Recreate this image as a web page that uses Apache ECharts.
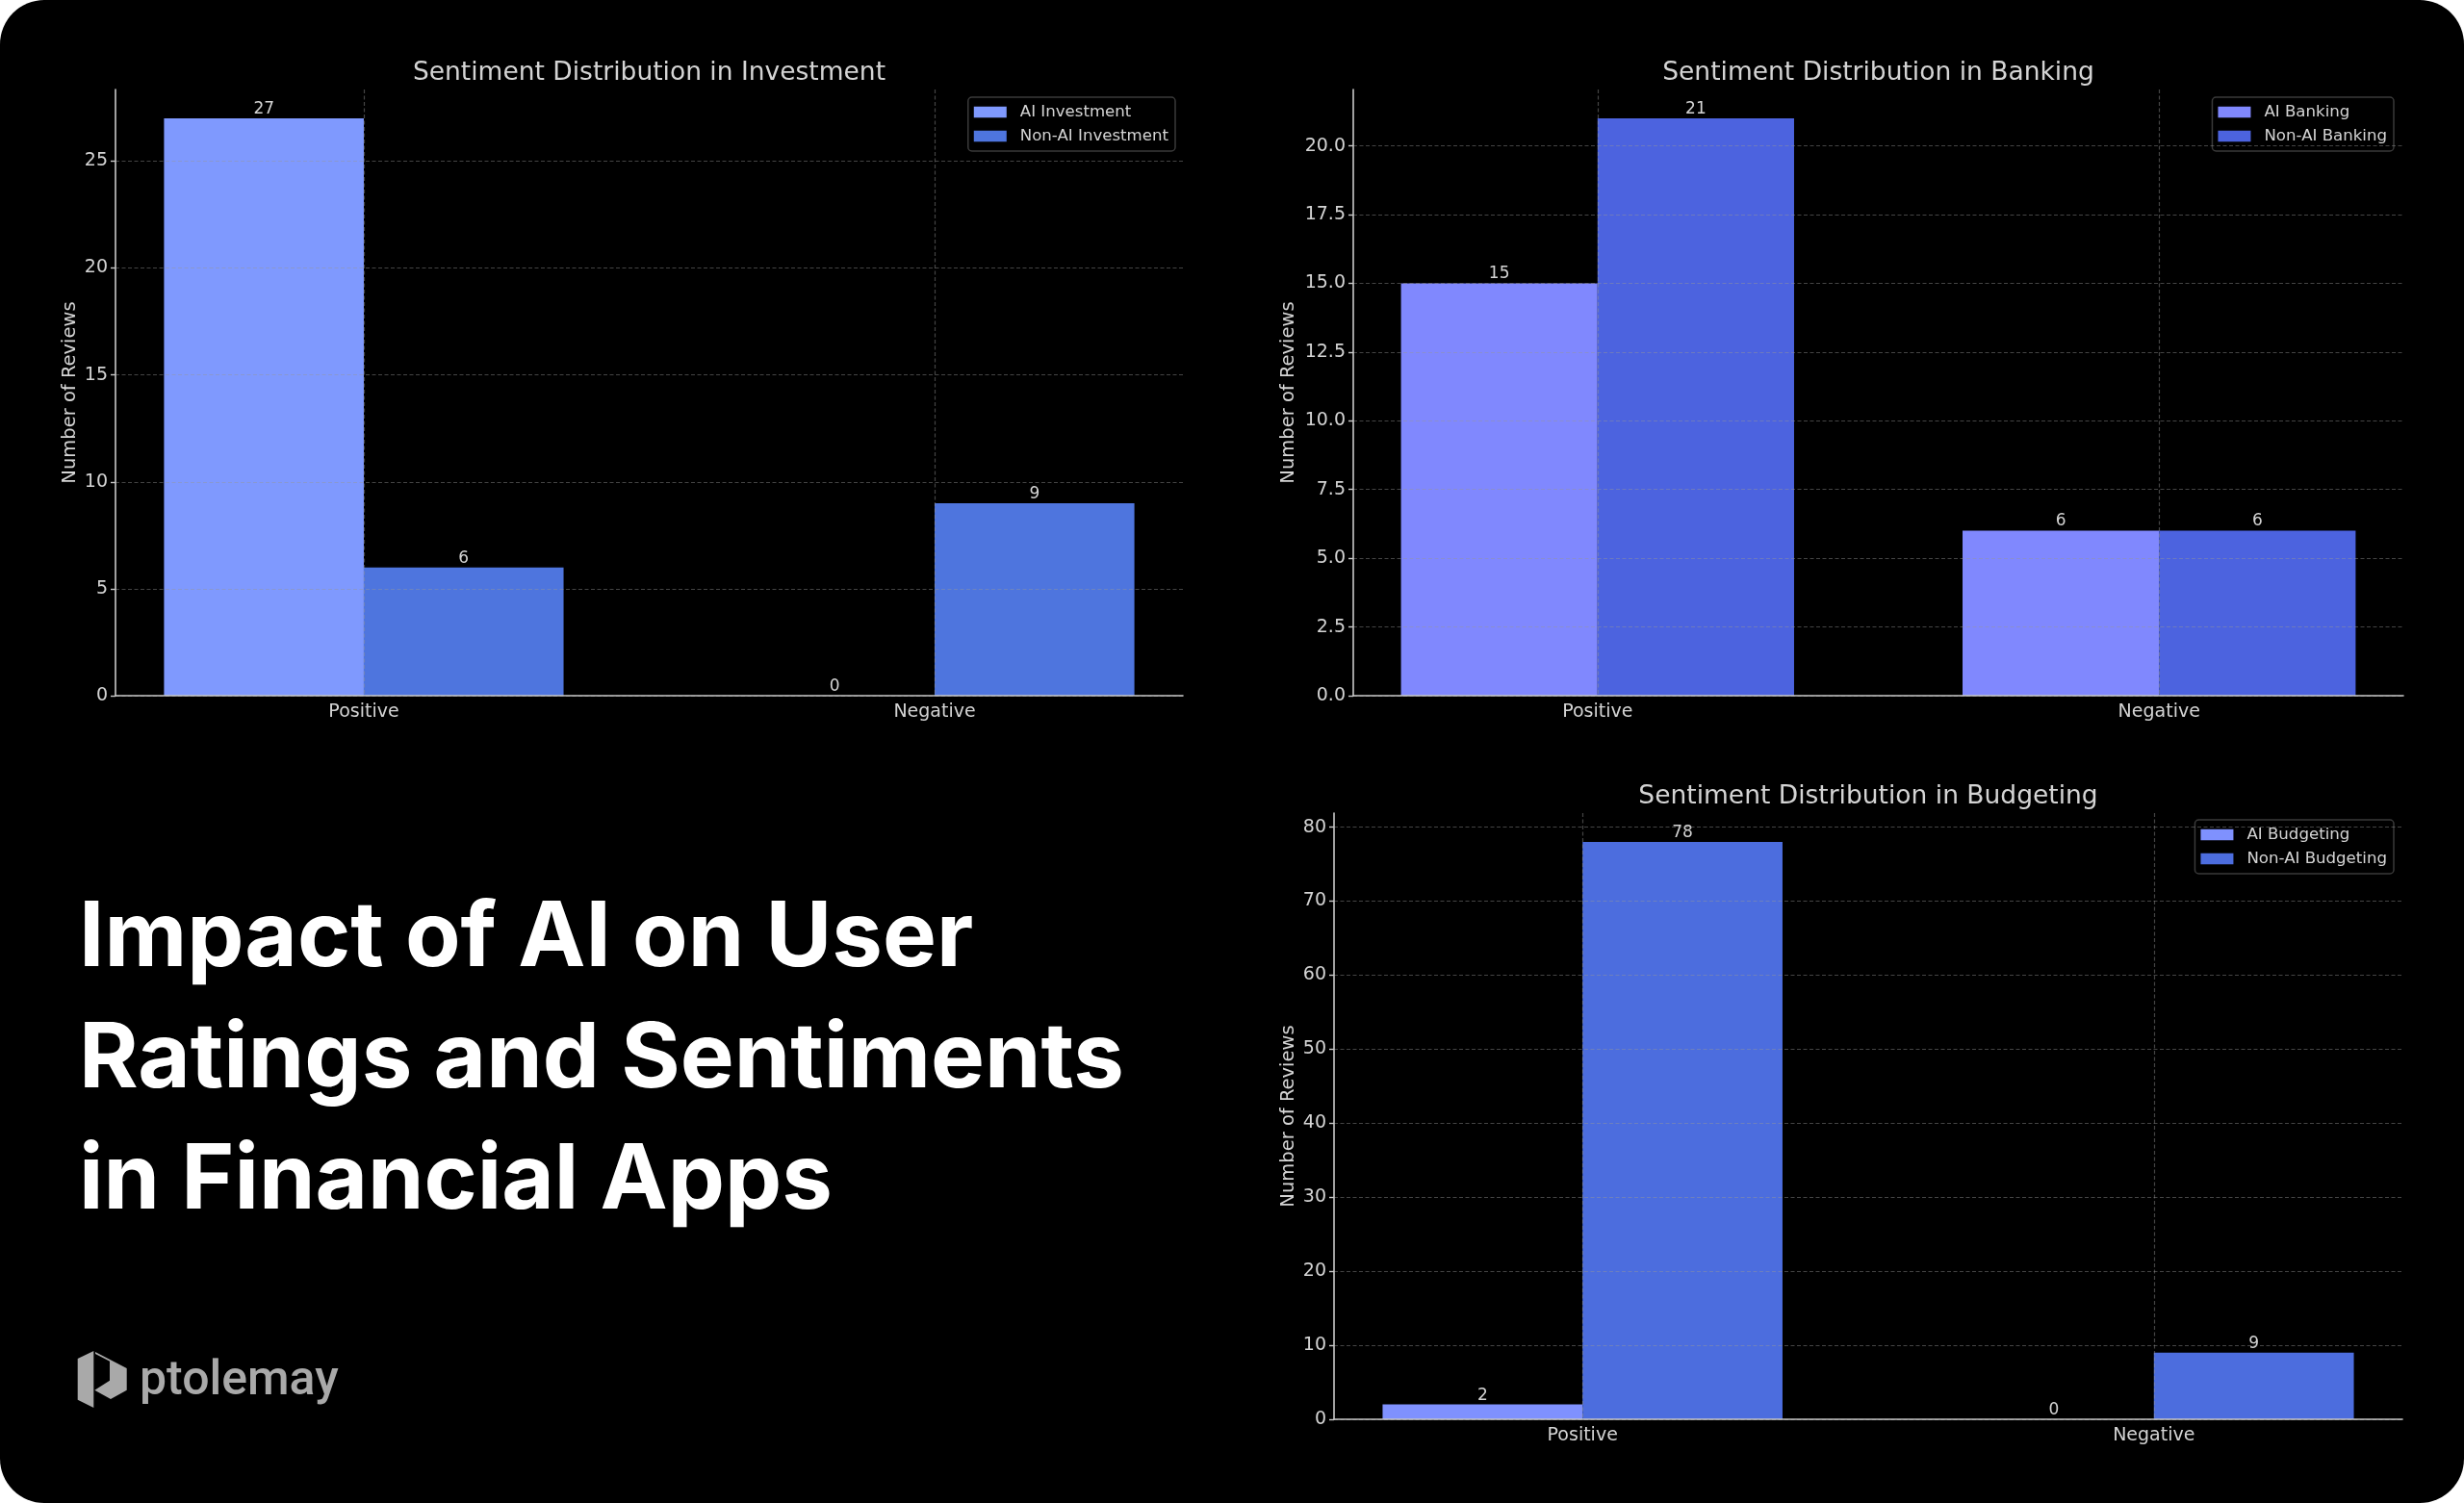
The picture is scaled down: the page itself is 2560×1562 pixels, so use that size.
<!DOCTYPE html>
<html><head><meta charset="utf-8">
<script src="https://cdn.jsdelivr.net/npm/echarts@6/dist/echarts.min.js"></script>
<style>
html,body{margin:0;padding:0;background:#fff;width:2560px;height:1562px;overflow:hidden}
#bg{position:absolute;left:0;top:0;width:2560px;height:1562px;background:#000;border-radius:46px}
#chart{position:absolute;left:0;top:0;width:2560px;height:1562px}
</style></head><body><div id="bg"></div><div id="chart"></div>
<script>
const categories = ['Positive', 'Negative'];
const investmentAI = [27, 0];
const investmentNonAI = [6, 9];
const bankingAI = [15, 6];
const bankingNonAI = [21, 6];
const budgetingAI = [2, 0];
const budgetingNonAI = [78, 9];
const investmentTicks = [0, 5, 10, 15, 20, 25];
const bankingTicks = [0, 2.5, 5, 7.5, 10, 12.5, 15, 17.5, 20];
const budgetingTicks = [0, 10, 20, 30, 40, 50, 60, 70, 80];
const titleLines = ['Impact of AI on User', 'Ratings and Sentiments', 'in Financial Apps'];
const brandName = 'ptolemay';

const panels = [
  { title: 'Sentiment Distribution in Investment', names: ['AI Investment', 'Non-AI Investment'],
    values: [investmentAI, investmentNonAI], ticks: investmentTicks, decimals: 0,
    colors: ['#7F99FE', '#4E75DE'],
    grid: { left: 120, right: 1331, top: 93, bottom: 839 }, titleX: 674.5, titleTop: 63,
    nameGap: 37, legend: { right: 1339, top: 101 } },
  { title: 'Sentiment Distribution in Banking', names: ['AI Banking', 'Non-AI Banking'],
    values: [bankingAI, bankingNonAI], ticks: bankingTicks, decimals: 1,
    colors: ['#8088FE', '#4C63DF'],
    grid: { left: 1406, right: 63, top: 93, bottom: 839 }, titleX: 1951.5, titleTop: 63,
    nameGap: 57, legend: { right: 73, top: 101 } },
  { title: 'Sentiment Distribution in Budgeting', names: ['AI Budgeting', 'Non-AI Budgeting'],
    values: [budgetingAI, budgetingNonAI], ticks: budgetingTicks, decimals: 0,
    colors: ['#7F91FE', '#4C6DDE'],
    grid: { left: 1386, right: 64, top: 845, bottom: 87 }, titleX: 1941, titleTop: 815,
    nameGap: 37, legend: { right: 73, top: 852 } }
];

const FONT = 'DejaVu Sans';
const TXT = '#d4d4d4';
const gridLine = { show: true, lineStyle: { color: 'rgba(150,150,150,0.45)', width: 1.2, type: [4, 2.5] } };
const barW = 0.35;
const offsets = [[-barW, 0], [0, barW]];

const option = {
  animation: false,
  textStyle: { fontFamily: FONT },
  title: [], grid: [], xAxis: [], yAxis: [], legend: [], series: [],
  graphic: []
};

panels.forEach((p, k) => {
  option.title.push({
    text: p.title, left: p.titleX, top: p.titleTop, textAlign: 'center', padding: 0,
    textStyle: { color: TXT, fontSize: 26.5, fontWeight: 'normal', fontFamily: FONT }
  });
  option.grid.push(Object.assign({ containLabel: false }, p.grid));
  option.xAxis.push({
    type: 'value', gridIndex: k, min: -0.435, max: 1.435, z: 5,
    axisLine: { show: true, onZero: false, lineStyle: { color: '#c8c8c8', width: 1.6 } },
    axisTick: { show: false, customValues: [0, 1] },
    axisLabel: { show: true, customValues: [0, 1], margin: 8, color: TXT, fontSize: 19, fontFamily: FONT,
      formatter: v => categories[Math.round(v)] },
    splitLine: gridLine
  });
  const allVals = p.values[0].concat(p.values[1]);
  option.yAxis.push({
    type: 'value', gridIndex: k, min: 0, max: Math.max.apply(null, allVals) * 1.05, z: 5,
    name: 'Number of Reviews', nameLocation: 'middle', nameGap: p.nameGap,
    nameTextStyle: { color: TXT, fontSize: 19.5, fontFamily: FONT },
    axisLine: { show: true, onZero: false, lineStyle: { color: '#c8c8c8', width: 1.6 } },
    axisTick: { show: true, length: 5, customValues: p.ticks, lineStyle: { color: '#c8c8c8', width: 1.4 } },
    axisLabel: { show: true, customValues: p.ticks, margin: 8, color: TXT, fontSize: 19, fontFamily: FONT,
      formatter: v => v.toFixed(p.decimals) },
    splitLine: gridLine
  });
  option.legend.push({
    data: p.names, orient: 'vertical', right: p.legend.right, top: p.legend.top,
    icon: 'rect', itemWidth: 34, itemHeight: 11.5, itemGap: 6,
    padding: [6, 7, 6, 6], backgroundColor: 'rgba(0,0,0,0.8)',
    borderColor: '#3a3a3a', borderWidth: 1.5, borderRadius: 4,
    selectedMode: false,
    textStyle: { color: TXT, fontSize: 16.6, fontFamily: FONT, lineHeight: 19, padding: [0, 0, 0, 9] }
  });
  p.names.forEach((name, s) => {
    const off = offsets[s];
    option.series.push({
      type: 'custom', name: name, xAxisIndex: k, yAxisIndex: k, z: 2,
      itemStyle: { color: p.colors[s] },
      encode: { x: 0, y: 1 },
      data: p.values[s].map((v, i) => [i, v]),
      renderItem: (params, api) => {
        const c = api.value(0), v = api.value(1);
        const p0 = api.coord([c + off[0], v]);
        const p1 = api.coord([c + off[1], 0]);
        return {
          type: 'group',
          children: [
            { type: 'rect', shape: { x: p0[0], y: p0[1], width: p1[0] - p0[0], height: p1[1] - p0[1] },
              style: { fill: api.visual('color') } },
            { type: 'text', x: (p0[0] + p1[0]) / 2, y: p0[1] - 9.5,
              style: { text: String(v), fill: TXT, font: '17px "DejaVu Sans"', align: 'center', verticalAlign: 'middle' } }
          ]
        };
      }
    });
  });
});

titleLines.forEach((line, i) => {
  option.graphic.push({
    type: 'text', x: 82, y: 976 + i * 126,
    style: { text: line, fill: '#ffffff', font: '700 94px Inter', verticalAlign: 'middle', align: 'left' }
  });
});

// brand mark
option.graphic.push({
  type: 'polygon', shape: { points: [[80.7, 1412], [97.3, 1404], [97.3, 1463], [80.7, 1454.7]] },
  style: { fill: '#a9a9a9' }
});
option.graphic.push({
  type: 'polygon', shape: { points: [[99, 1405], [131.7, 1422], [131.7, 1444.7], [115, 1454], [98.3, 1444.7], [114, 1434.7], [114, 1414.7], [99, 1407]] },
  style: { fill: '#a9a9a9' }
});
option.graphic.push({
  type: 'text', x: 145, y: 1436,
  style: { text: brandName, fill: '#a9a9a9', font: '500 50px Roboto', verticalAlign: 'middle', align: 'left' }
});

const chart = echarts.init(document.getElementById('chart'), null, { renderer: 'canvas', width: 2560, height: 1562 });
chart.setOption(option);
</script></body></html>
